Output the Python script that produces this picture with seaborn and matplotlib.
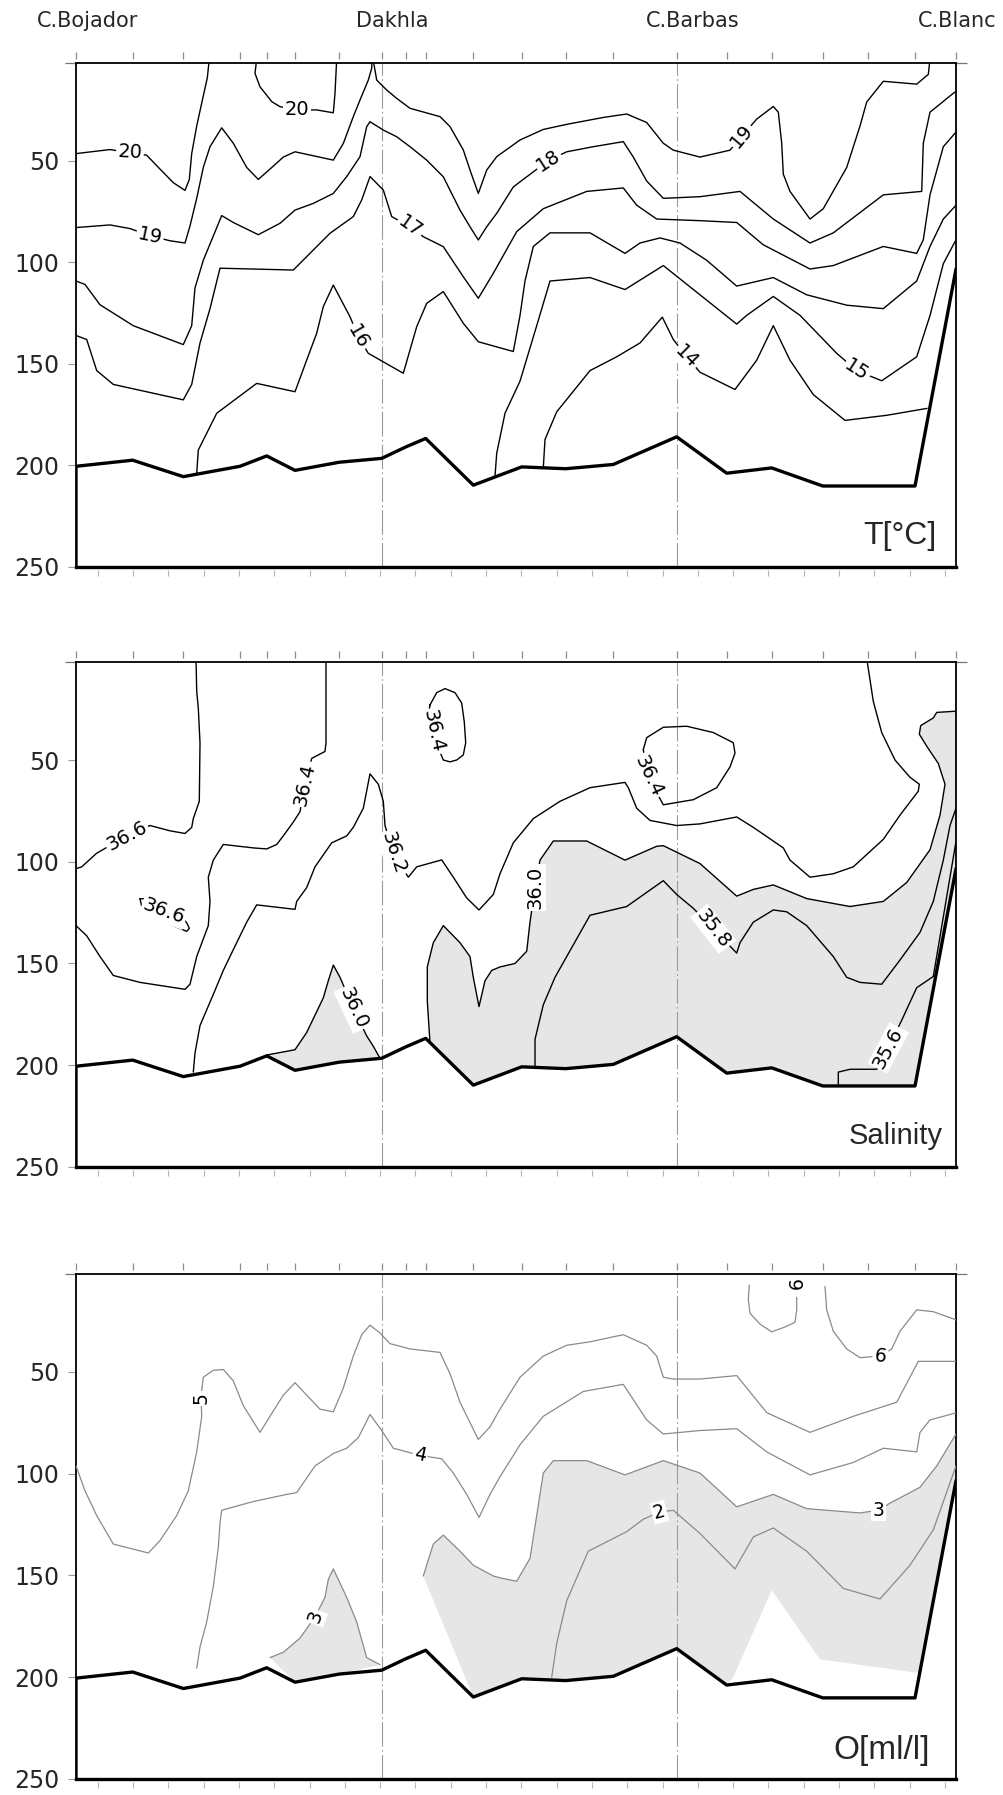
import numpy as np
import pandas as pd
import matplotlib
matplotlib.use("Agg")
import matplotlib.pyplot as plt
import matplotlib.transforms as mtransforms
import seaborn as sns

sns.set_theme(style="white")
plt.rcParams["font.family"] = ["DejaVu Sans"]
TITLE_FONT = ["Liberation Sans", "DejaVu Sans"]

# ---------------------------------------------------------------------------
# Section geometry: along-shelf distance of the stations (C.Bojador = 0)
# and water depth (m) at each station
# ---------------------------------------------------------------------------
station_x = [0, 56.7, 107.3, 164, 190.7, 219, 263.3, 305.7, 329.7, 349.7, 397.3,
             445.7, 489.7, 537.3, 600.7, 650.7, 695.7, 746.7, 791.7, 839, 880]
bottom_depth = [200.5, 197.5, 205.6, 200.5, 195.4, 202.5, 198.5, 196.6, 191, 186.8, 209.8,
                200.8, 201.7, 199.6, 186, 203.9, 201.3, 210.2, 210.2, 210.2, 103.4]

cape_names = ["C.Bojador", "Dakhla", "C.Barbas", "C.Blanc"]
cape_label_x = [12, 316.5, 617, 881.5]
reference_stations = [305.7, 600.7]          # Dakhla and C.Barbas sections
depth_ticks = [50, 100, 150, 200, 250]

# ---------------------------------------------------------------------------
# Temperature isotherms (x, depth)
# ---------------------------------------------------------------------------
t20_west = [(0, 46.6), (34, 44.6), (54, 46.2), (70.7, 47.4), (84, 54.2), (97.3, 60.9),
            (109, 64.7), (113.3, 59.3), (115.7, 46.6), (120.7, 33), (126.7, 19.5),
            (131.3, 9.3), (133.3, 0)]
t20_cell = [(180.7, 0), (179, 7.1), (184, 13.7), (195.7, 21), (204, 23.5), (220.7, 25.1),
            (240.7, 25.1), (257.3, 26.5), (259, 16.9), (260.7, 0)]
t19_west = [(0, 83), (34, 81.7), (54, 83.5), (74, 87), (94, 89.5), (109, 90.6), (114, 82.2),
            (120.7, 68.6), (127.3, 53.4), (134, 43.2), (145.7, 33.9), (157.3, 41.5),
            (170.7, 53.4), (182.3, 59.3), (194, 54.2), (207.3, 48.3), (219, 45.7),
            (257.3, 49.8), (267.3, 41.6), (277.3, 28.4), (284, 20.2), (292.3, 10.4),
            (295.7, 4.6), (296, 0)]
t19_east = [(297, 0), (300.7, 10.4), (310.7, 15.3), (320.7, 19.4), (334, 24.3), (364, 28.4),
            (374, 33.3), (387.3, 44.8), (394, 54.7), (402.3, 66.2), (410.7, 54.7),
            (420.7, 48.1), (444, 39.9), (467.3, 34.7), (490.7, 32.2), (527.3, 28.8),
            (550.7, 27.1), (570.7, 31.3), (587.3, 41.5), (597.3, 44.9), (624, 48.3),
            (654, 44.9), (665.7, 38.1), (680.7, 29.6), (697.3, 23.4), (702.3, 26.2),
            (705.7, 41.5), (707.3, 56.7), (714, 65.2), (734, 78.8), (747.3, 73.7),
            (770.7, 53.4), (784, 33), (790.7, 21.2), (807.3, 11), (840.7, 12.4),
            (852.3, 7.6), (854, 0)]
t18 = [(0, 109.3), (9, 111), (24, 121), (57.3, 131.3), (107.3, 140.6), (115.7, 131.3),
       (119, 112.7), (127.3, 99.1), (145.7, 77.1), (157.3, 80.5), (182.3, 86.5), (204, 80.9),
       (219, 74.4), (237.3, 71.1), (257.3, 66.2), (270.7, 57.9), (284, 48.1), (290.7, 33.3),
       (294, 30.9), (307.3, 35), (320.7, 38.3), (334, 43.2), (350.7, 49.8), (367.3, 58),
       (384, 74.4), (394, 82.6), (402.3, 89.1), (410.7, 82.6), (420.7, 76), (437.3, 63),
       (472.3, 50), (490.7, 45.7), (517.3, 43.2), (547.3, 40.7), (557.3, 48.3),
       (570.7, 60.1), (587.3, 68.6), (624, 67.8), (664, 65.2), (697.3, 78.8), (734, 90.6),
       (757.3, 85.6), (807.3, 66.9), (845.7, 65.2), (847.3, 41.5), (854, 26.2),
       (877.3, 16.9), (880, 16)]
t17 = [(0, 136.1), (10.7, 138.1), (20.7, 153.4), (37.3, 160.2), (107.3, 167.8),
       (115.7, 160.2), (124, 139.8), (134, 122.9), (144, 103), (217.3, 103.9),
       (230.7, 97.3), (254, 85.8), (277.3, 77.6), (285.7, 69.4), (294, 57.9), (307.3, 64.5),
       (315.7, 77.6), (334, 82.6), (347.3, 87.5), (367.3, 92.4), (387.3, 107.2),
       (402.3, 117.8), (417.3, 105.5), (440.7, 85), (467.3, 73.7), (510.7, 65.2),
       (547.3, 63.5), (560.7, 72), (580.7, 78.8), (624, 79.6), (660.7, 80.5), (687.3, 91.5),
       (734, 103.4), (757.3, 101.7), (807.3, 92.3), (840.7, 95.7), (847.3, 89), (854, 66.9),
       (867.3, 43.2), (880, 36)]
t16 = [(120.7, 204), (122.3, 192.5), (140.7, 174.4), (180.7, 159.7), (219, 163.8),
       (230.7, 148.2), (240.7, 135), (247.3, 121.9), (257.3, 111.3), (274, 126.9),
       (282.3, 136.7), (292.3, 144.9), (327.3, 154.7), (340.7, 131.8), (350.7, 120.3),
       (367.3, 114.5), (387.3, 130.1), (402.3, 139.2), (437.3, 144), (444, 126.3),
       (449, 109.3), (457.3, 92.3), (474, 85.6), (514, 85.6), (549, 95.7), (564, 90.6),
       (584, 88.1), (604, 90.6), (630.7, 99.1), (660.7, 111.8), (697.3, 107.6),
       (730.7, 116.1), (770.7, 121.2), (807.3, 122.9), (840.7, 109.3), (854, 92.3),
       (867.3, 78.8), (880, 72)]
t15 = [(419, 205.5), (420.7, 194.1), (429, 174.4), (444, 158.6), (460.7, 131.3),
       (474, 109.3), (514, 107.6), (549, 113.5), (587.3, 101.7), (624, 116.1),
       (660.7, 130.5), (670.7, 126.2), (697.3, 116.9), (724, 126.2), (760.7, 144.9),
       (780.7, 153.4), (805.7, 158.4), (840.7, 146.6), (854, 126.3), (867.3, 100.8),
       (880, 89)]
t14 = [(467.3, 201.2), (469, 187.3), (480.7, 173.7), (514, 153.4), (540.7, 146.6),
       (564, 139.8), (586.3, 127.1), (597.3, 138.1), (610.7, 146.6), (624, 154.2),
       (659, 162.7), (680.7, 148.3), (697.3, 131.3), (714, 148.3), (737.3, 165.2),
       (769, 177.9), (810.7, 175.4), (851, 172)]

temp_lines = [t20_west, t20_cell, t19_west, t19_east, t18, t17, t16, t15, t14]
# label text, x, depth, rotation
temp_labels = [("20", 54, 46, -3), ("20", 220.7, 25.1, 0), ("19", 74, 87, -12),
               ("19", 665.7, 38.1, 50), ("18", 472.3, 50, 33), ("17", 334, 82.6, -35),
               ("16", 282.3, 136.7, -60), ("15", 780.7, 153.4, -33), ("14", 610.7, 146.6, -45)]

# ---------------------------------------------------------------------------
# Salinity isohalines
# ---------------------------------------------------------------------------
s366_west = [(0, 103.4), (5.7, 102.5), (20.7, 95.8), (50.7, 87.3), (74, 82.2), (94, 84.8),
             (109, 86.1), (115.7, 83.1), (117.3, 78.8), (123.3, 70.3), (124, 41.5),
             (122.3, 24.6), (120.7, 16.1), (120, 0)]
s366_lens = [(64, 118.2), (65.7, 122), (72.3, 125.4), (87.3, 129.3), (100.7, 132.2),
             (110.7, 134.2), (113.3, 132.7), (110.7, 130), (104, 126.3), (87.3, 122),
             (70.7, 118.2), (64, 118.2)]
s364_west = [(0, 131.4), (10.7, 136.4), (24, 146.6), (37.3, 155.9), (64, 159.3), (109, 162.7),
             (114, 160.2), (120.7, 146.6), (132.3, 131.4), (134, 119.5), (132.3, 107.6),
             (137.3, 99.2), (147.3, 91.5), (177.3, 93.2), (190.7, 93.7), (200.7, 91.5),
             (207.3, 87.3), (217.3, 80.5), (224, 75.4), (229, 61.9), (235.7, 49.2),
             (249, 45.8), (250, 41.5), (250, 0)]
s364_dakhla = [(354, 22.9), (360.7, 16.9), (369, 14.9), (379, 16.9), (385.7, 22),
               (388.3, 31.4), (389.7, 41.5), (387.3, 47.5), (380.7, 50), (374, 50.9),
               (367.3, 50), (357.3, 38.1), (352.3, 28), (354, 22.9)]
s364_barbas = [(567.3, 44.9), (570.7, 39), (587.3, 33.9), (610.7, 33.4), (637.3, 36.5),
               (657.3, 41.5), (659, 46.6), (654, 53.4), (640.7, 63.6), (617.3, 69.5),
               (587.3, 72), (572.3, 58.5), (567.3, 44.9)]
s362 = [(117.3, 203.4), (119, 194), (124, 180.5), (137.3, 165.2), (147.3, 153.4),
        (157.3, 143.2), (170.7, 129.7), (180.7, 121.2), (219, 123.4), (220.7, 119.5),
        (230.7, 112.7), (239, 102.5), (255.7, 90.7), (270.7, 87.3), (277.3, 83.1),
        (287.3, 73.7), (294, 56.8), (302.3, 61.9), (307.3, 70.3), (309, 82.2), (317.3, 95.8),
        (332.3, 107.6), (340.7, 102.5), (365.7, 99.1), (377.3, 107.6), (390.7, 117.8),
        (403, 123.7), (417.3, 116.1), (424, 105.9), (437.3, 90.7), (457.3, 78.8),
        (484, 70.3), (514, 63.6), (549, 61), (552.3, 63.6), (560.7, 73.7), (574, 79.7),
        (600.7, 82.2), (624, 81.4), (660.7, 78), (677.3, 83.1), (707.3, 93.2), (714, 99.2),
        (734, 107.6), (757.3, 105.9), (777.3, 102.5), (807.3, 89), (824, 77.1),
        (842.3, 65.3), (843.3, 61.9), (834, 58.5), (819, 50), (805.7, 36.5), (797.3, 21.2),
        (790.7, 0)]
s360_west = [(190.7, 195), (219, 192.4), (230.7, 183.9), (247.3, 166.9), (252.3, 158.5),
             (257.3, 150.8), (264, 156.8), (277.3, 172), (290.7, 185.6), (297.3, 190.7),
             (304, 196.6)]
s360_east = [(354, 189), (351.3, 168.6), (351.3, 151.7), (357.3, 139.8), (367.3, 131.4),
             (384, 139.8), (394, 146.6), (397.3, 156.8), (403, 171.2), (409, 158.5),
             (415.7, 153.4), (424, 151.7), (439, 150), (450.7, 144), (454, 129.7),
             (459, 112.7), (464, 99.2), (477.3, 89.8), (510.7, 89.8), (549, 99.2),
             (580.7, 92.4), (587.3, 92.1), (624, 100.9), (660.7, 116.9), (677.3, 113.6),
             (697.3, 111.4), (730.7, 118.1), (774, 122), (807.3, 119.5), (830.7, 110.2),
             (854, 94.1), (864, 77.1), (869, 61.9), (862.3, 51.7), (850.7, 43.2),
             (843.3, 37.3), (844.7, 33.1), (857.3, 29.3), (860.7, 26.6), (880, 26)]
s358 = [(459, 201), (459, 187.3), (467.3, 170.3), (479, 156.8), (490.7, 146.6), (514, 126.3),
        (550.7, 122), (587.3, 109.3), (600.7, 116.1), (617.3, 122.9), (637.3, 133),
        (660.7, 144.9), (664, 139.8), (677.3, 129.7), (697.3, 123.7), (710.7, 124.6),
        (730.7, 131.4), (757.3, 146.6), (770.7, 156.8), (784, 159.3), (805.7, 160.2),
        (824, 148.3), (844, 134.7), (857.3, 119.5), (867.3, 99.2), (874, 82.2), (880, 73.7)]
s356 = [(762.3, 209.7), (762.3, 203.4), (774, 202), (800.7, 202), (812.3, 191.5),
        (825.7, 177.9), (840.7, 161.9), (857.3, 156.4), (880, 90)]

sal_lines = [s366_west, s366_lens, s364_west, s364_dakhla, s364_barbas, s362,
             s360_west, s360_east, s358, s356]
sal_labels = [("36.6", 50.7, 87.3, 28), ("36.6", 88, 124.5, -20), ("36.4", 229, 61.9, 78),
              ("36.4", 357.5, 36, -78), ("36.4", 572.3, 58, -65), ("36.2", 317.3, 95.8, -72),
              ("36.0", 277.3, 172, -65), ("36.0", 459, 112.7, 90), ("35.8", 637.3, 133, -52),
              ("35.6", 812.3, 191.5, 62)]

# ---------------------------------------------------------------------------
# Oxygen isolines (ml/l)
# ---------------------------------------------------------------------------
o6_north = [(673.3, 7.3), (672.3, 14.3), (674, 21.2), (684, 26.5), (695.7, 30.3),
            (709, 27.9), (719, 25.6), (720.7, 19.5), (720.7, 13.4)]
o6_south = [(749, 8), (750.7, 19.5), (757.3, 30), (770.7, 38.7), (784, 43), (804, 42.2),
            (815.7, 38.7), (824, 30), (840.7, 19.5), (857.3, 20.4), (877.3, 23.9), (880, 24.5)]
o5 = [(0, 96.2), (9, 108.4), (20.7, 120.6), (37.3, 134.6), (72.3, 139), (84, 132.9),
      (100.7, 120.6), (112.3, 108.4), (120.7, 89.3), (125.7, 71.9), (125, 62), (127.3, 52.6),
      (137.3, 49.2), (147.3, 48.8), (157.3, 54.4), (167.3, 66.6), (184, 79.7), (194, 71.8),
      (207.3, 61.4), (219, 55.3), (230.7, 61.4), (244, 68.3), (257.3, 69.6), (267.3, 57.9),
      (277.3, 42.2), (285.7, 31.7), (294, 27), (304, 30.9), (314, 36.1), (334, 38.7),
      (364, 40.4), (374, 50.9), (384, 64.9), (402.3, 83.2), (414, 77), (424, 68.3),
      (444, 52.6), (467.3, 42.2), (490.7, 36.9), (514, 35.2), (547.3, 31.7), (570.7, 36.9),
      (580.7, 42.2), (587.3, 52.6), (597.3, 53.5), (624, 53.5), (660.7, 51.8), (690.7, 70),
      (734, 79.7), (777.3, 71.8), (820.7, 64.9), (842.3, 44.8), (880, 44.8)]
o4 = [(120.7, 195.6), (124, 185.2), (130.7, 172.9), (137.3, 155.5), (142.3, 136.3),
      (144, 124.1), (145.7, 118), (177.3, 113.7), (210.7, 110.2), (220.7, 109.3), (239, 96.2),
      (257.3, 90.1), (270.7, 87.5), (282.3, 82.3), (294, 70.9), (305.7, 78.8), (317.3, 87.5),
      (344, 91), (365.7, 92.7), (377.3, 99.7), (390.7, 110.2), (403, 121.5), (414, 110.2),
      (424, 101.5), (444, 85.8), (467.3, 71.8), (507.3, 59.6), (547.3, 56.1), (570.7, 73.6),
      (587.3, 80.5), (624, 78.8), (660.7, 77.9), (690.7, 89.3), (734, 100.6), (777.3, 94.5),
      (807.3, 87.5), (840.7, 89.3), (844, 79.7), (854, 73.6), (880, 70.1)]
o3_west = [(194, 190.4), (207.3, 187.8), (224, 180.8), (239, 170.4), (249, 160.8),
           (252.3, 152), (257.3, 146.8), (270.7, 160.8), (280.7, 172.9), (290.7, 190.4),
           (304, 193.9)]
o3_east = [(347.3, 150.3), (357.3, 134.6), (367.3, 130.2), (384, 138.1), (397.3, 145),
           (417.3, 150.3), (424, 151.2), (440.7, 152.9), (454, 141.6), (460.7, 120.6),
           (467.3, 99.7), (477.3, 93.6), (510.7, 93.6), (549, 100.6), (587.3, 93.6),
           (624, 99.7), (660.7, 116.3), (697.3, 110.2), (730.7, 117.2), (784, 119.3),
           (802.3, 118), (814, 114.5), (844, 106.7), (860.7, 96.2), (880, 80.5)]
# lower limit of the low-oxygen water below the 3 ml/l line
o3_east_floor = [(880, 103.4), (844, 198), (744, 191.3), (695.7, 157.3), (657.3, 200),
                 (650.7, 203.9), (600.7, 186), (537.3, 199.6), (489.7, 201.7),
                 (445.7, 200.8), (397.3, 209.8)]
o2 = [(475.7, 200), (480.7, 183.4), (490.7, 162.5), (512.3, 138.1), (550.7, 128.5),
      (567.3, 122.4), (583.3, 118.9), (597.3, 118), (624, 129.4), (659, 146.8),
      (677.3, 131.1), (697.3, 126.7), (730.7, 138.1), (767.3, 156.4), (804, 161.6),
      (834, 145), (857.3, 127.6), (880, 96.2)]

oxy_lines = [o6_north, o6_south, o5, o4, o3_west, o3_east, o2]
oxy_labels = [("6", 721.5, 6.5, 90), ("6", 804, 42.2, -8), ("5", 125, 63, 90),
              ("4", 344, 91, -12), ("3", 239, 170.4, 70), ("3", 802.3, 118, 0),
              ("2", 583.3, 118.9, 15)]

SHADE = "#e6e6e6"


def isoline(ax, pts, color="black", lw=1.0):
    df = pd.DataFrame(pts, columns=["x", "depth"])
    sns.lineplot(data=df, x="x", y="depth", sort=False, estimator=None, errorbar=None,
                 ax=ax, color=color, lw=lw, zorder=3)


def contour_label(ax, text, x, d, rot, size=14):
    ax.text(x, d, text, rotation=rot, rotation_mode="anchor", ha="center", va="center",
            fontsize=size, color="black", zorder=4,
            bbox=dict(boxstyle="square,pad=0.08", fc="white", ec="none"))


def shade_above_floor(ax, line, floor_x, floor_d, x0, x1):
    fx = [x for x in floor_x if x0 < x < x1]
    fd = [d for x, d in zip(floor_x, floor_d) if x0 < x < x1]
    xs = [p[0] for p in line] + fx[::-1]
    ds = [p[1] for p in line] + fd[::-1]
    ax.fill(xs, ds, color=SHADE, lw=0, zorder=1)


def frame(ax):
    ax.set_xlim(0, 880)
    ax.set_ylim(250, 2)
    ax.set_xticks([])
    ax.set_yticks(depth_ticks)
    ax.set_yticklabels([str(t) for t in depth_ticks], fontsize=17)
    ax.set_yticks([2], minor=True)
    ax.tick_params(axis="y", which="major", left=True, right=False, direction="out",
                   length=6, width=0.8, color="#999999", pad=6)
    ax.tick_params(axis="y", which="minor", left=True, right=True, direction="out",
                   length=8, width=0.9, color="#777777")
    for sp in ax.spines.values():
        sp.set_visible(True)
        sp.set_color("black")
        sp.set_linewidth(1.3)
    ax.spines["bottom"].set_linewidth(2.4)

    # ground below the sea floor and the sea-floor line
    ax.fill_between(station_x, bottom_depth, 250, color="white", lw=0, zorder=2)
    floor = pd.DataFrame({"x": [0] + station_x, "depth": [250] + bottom_depth})
    sns.lineplot(data=floor, x="x", y="depth", sort=False, estimator=None, errorbar=None,
                 ax=ax, color="black", lw=2.4, zorder=5)
    ax.set_xlabel("")
    ax.set_ylabel("")

    for xs in reference_stations:
        ax.axvline(xs, color="#9a9a9a", lw=0.8, dashes=(22, 3, 1.5, 3), zorder=2.5)

    tr = mtransforms.blended_transform_factory(ax.transData, ax.transAxes)
    ax.vlines(station_x, 1.008, 1.022, transform=tr, color="#8c8c8c", lw=0.9, clip_on=False)
    ax.vlines(np.arange(21.7, 880, 35.3), -0.018, -0.006, transform=tr, color="#b5b5b5",
              lw=0.8, clip_on=False)


fig = plt.figure(figsize=(10.04, 17.95), dpi=100)
ax_t = fig.add_axes([0.0757, 0.6842, 0.8765, 0.2807])
ax_s = fig.add_axes([0.0757, 0.3499, 0.8765, 0.2811])
ax_o = fig.add_axes([0.0757, 0.0090, 0.8765, 0.2811])

# --- temperature -----------------------------------------------------------
for pts in temp_lines:
    isoline(ax_t, pts, "black", 1.0)
for text, x, d, rot in temp_labels:
    contour_label(ax_t, text, x, d, rot)
frame(ax_t)
ax_t.text(860, 235, "T[°C]", ha="right", va="center", fontsize=23, family=TITLE_FONT,
          zorder=6)
tr_top = mtransforms.blended_transform_factory(ax_t.transData, ax_t.transAxes)
for name, x in zip(cape_names, cape_label_x):
    ax_t.text(x, 1.084, name, transform=tr_top, ha="center", va="center", fontsize=15,
              clip_on=False)

# --- salinity --------------------------------------------------------------
shade_above_floor(ax_s, s360_west, station_x, bottom_depth, 190.7, 304)
shade_above_floor(ax_s, s360_east, station_x, bottom_depth, 354, 881)
for pts in sal_lines:
    isoline(ax_s, pts, "black", 1.0)
for text, x, d, rot in sal_labels:
    contour_label(ax_s, text, x, d, rot)
frame(ax_s)
ax_s.text(867, 235, "Salinity", ha="right", va="center", fontsize=21, family=TITLE_FONT,
          zorder=6)

# --- oxygen ----------------------------------------------------------------
shade_above_floor(ax_o, o3_west, station_x, bottom_depth, 194, 304)
ax_o.fill([p[0] for p in o3_east] + [p[0] for p in o3_east_floor],
          [p[1] for p in o3_east] + [p[1] for p in o3_east_floor],
          color=SHADE, lw=0, zorder=1)
for pts in oxy_lines:
    isoline(ax_o, pts, "#8a8a8a", 0.9)
for text, x, d, rot in oxy_labels:
    contour_label(ax_o, text, x, d, rot, size=13.5)
frame(ax_o)
ax_o.text(854, 236, "O[ml/l]", ha="right", va="center", fontsize=24, family=TITLE_FONT,
          zorder=6)

fig.savefig("out.png", dpi=100, facecolor="white")
